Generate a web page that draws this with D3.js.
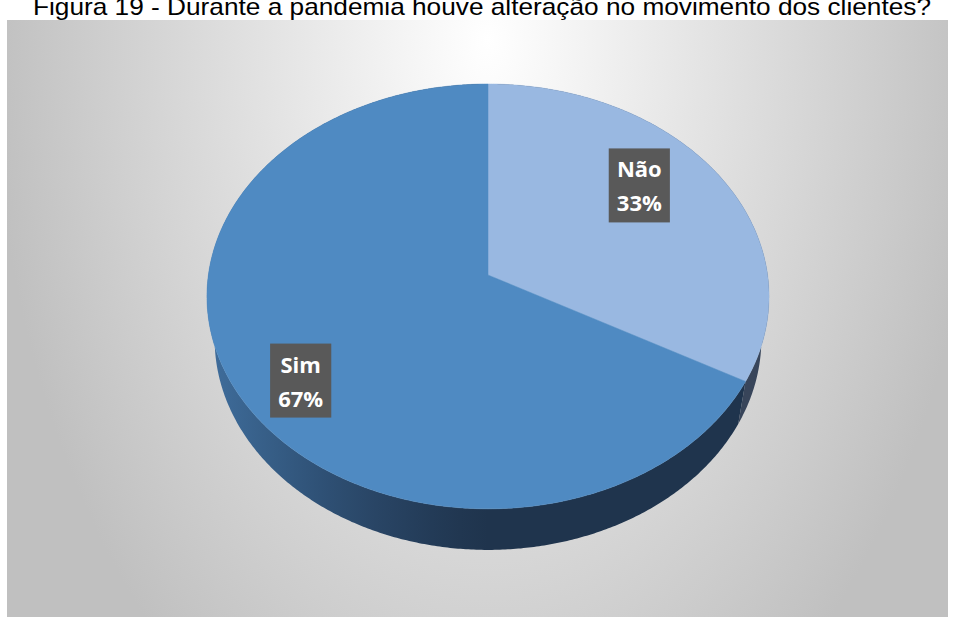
<!DOCTYPE html>
<html>
<head>
<meta charset="utf-8">
<script src="https://cdn.jsdelivr.net/npm/d3@7"></script>
<style>
  html, body { margin: 0; padding: 0; background: #ffffff; }
  svg { display: block; }
</style>
</head>
<body>
<svg id="chart" width="954" height="617"></svg>
<script>
// Survey answers, in drawing order (clockwise from 12 o'clock)
const categories = ["Não", "Sim"];
const values = [33, 67];
const titleText = "Figura 19 - Durante a pandemia houve alteração no movimento dos clientes?";

const W = 954, H = 617;
const svg = d3.select("#chart");
const defs = svg.append("defs");

// ---- background panel with a soft radial gradient ----
const bg = defs.append("radialGradient")
  .attr("id", "bgGrad")
  .attr("gradientUnits", "userSpaceOnUse")
  .attr("cx", 488).attr("cy", 40).attr("r", 800)
  .attr("gradientTransform", "translate(488,40) scale(0.62,1) translate(-488,-40)");
bg.append("stop").attr("offset", 0).attr("stop-color", "#ffffff");
bg.append("stop").attr("offset", 1).attr("stop-color", "#c0c0c0");

const panel = { x: 7, y: 20, w: 941, h: H - 20 };
svg.append("rect")
  .attr("x", panel.x).attr("y", panel.y)
  .attr("width", panel.w).attr("height", panel.h)
  .attr("fill", "url(#bgGrad)");

// ---- title (sits just above the panel) ----
svg.append("text")
  .attr("x", 33).attr("y", 15)
  .attr("textLength", 898)
  .attr("lengthAdjust", "spacingAndGlyphs")
  .style("font-family", "'Liberation Sans', Arial, sans-serif")
  .style("font-size", "24px")
  .attr("fill", "#000000")
  .text(titleText);

// ---- 3D pie geometry (perspective view of a tilted disc) ----
const cx = 488, cy = 275;      // projected centre of the disc
const radius = 0.153;          // disc radius, in units of camera distance
const thick = 0.037;           // disc thickness, same units
const focal = 1827.5;          // projection scale
const tilt = Math.asin(0.752); // elevation of the viewpoint
const sinT = Math.sin(tilt), cosT = Math.cos(tilt);

// angle (0 = back, clockwise), radial fraction, level (0 = top face, 1 = bottom face)
function project(theta, frac, level) {
  const X = radius * frac * Math.sin(theta);
  const Z = -radius * frac * Math.cos(theta);
  const Y = -thick * level;
  const up = Y * cosT - Z * sinT;
  const toward = Y * sinT + Z * cosT;
  const depth = 1 - toward;
  return [cx + focal * X / depth, cy - focal * up / depth];
}

const pie = d3.pie().sort(null).value(d => d)(values);
const total = d3.sum(values);

const topColor = d3.scaleOrdinal().domain(categories).range(["#99b8e1", "#4f8ac2"]);
const sideLight = d3.scaleOrdinal().domain(categories).range(["#6a82a3", "#3f6d9c"]);
const sideDark = d3.scaleOrdinal().domain(categories).range(["#38455a", "#1f344d"]);

const line = d3.line();
const step = Math.PI / 360;
const leftX = project(-Math.PI / 2, 1, 0)[0];
const rightX = project(Math.PI / 2, 1, 0)[0];

// side wall: one band per slice, shaded left-to-right by the direction it faces
const walls = svg.append("g");
pie.forEach((sl, i) => {
  const cat = categories[i];
  const shade = d3.interpolateRgb(sideDark(cat), sideLight(cat));
  const grad = defs.append("linearGradient")
    .attr("id", "side" + i)
    .attr("gradientUnits", "userSpaceOnUse")
    .attr("x1", leftX).attr("y1", 0).attr("x2", rightX).attr("y2", 0);
  d3.range(0, 1.0001, 0.05).forEach(o => {
    const lit = Math.max(0, 1 - 2 * o);            // faces left -> lit
    grad.append("stop").attr("offset", o).attr("stop-color", shade(Math.pow(lit, 1.3)));
  });
  const upper = [], lower = [];
  const n = Math.max(2, Math.ceil((sl.endAngle - sl.startAngle) / step));
  for (let j = 0; j <= n; j++) {
    const a = sl.startAngle + (sl.endAngle - sl.startAngle) * j / n;
    upper.push(project(a, 1, 0));
    lower.push(project(a, 1, 1));
  }
  walls.append("path")
    .attr("d", line(upper.concat(lower.reverse())) + "Z")
    .attr("fill", `url(#side${i})`);
});

// top face slices
const tops = svg.append("g");
pie.forEach((sl, i) => {
  const pts = [project(0, 0, 0)];
  const n = Math.max(2, Math.ceil((sl.endAngle - sl.startAngle) / step));
  for (let j = 0; j <= n; j++) {
    pts.push(project(sl.startAngle + (sl.endAngle - sl.startAngle) * j / n, 1, 0));
  }
  tops.append("path")
    .attr("d", line(pts) + "Z")
    .attr("fill", topColor(categories[i]))
    .attr("stroke", topColor(categories[i]))
    .attr("stroke-width", 0.5);
});

// ---- data labels ----
const labelCx = cx - 18, labelCy = cy + 8, labelRx = 0.7 * 281, labelRy = 0.9 * 213;
const labels = svg.append("g")
  .style("font-family", "'Open Sans', 'Noto Sans', sans-serif")
  .style("font-weight", "bold")
  .style("font-size", "22px");

pie.forEach((sl, i) => {
  const mid = (sl.startAngle + sl.endAngle) / 2;
  const lx = labelCx + labelRx * Math.sin(mid);
  const ly = labelCy - labelRy * Math.cos(mid);
  const g = labels.append("g").attr("transform", `translate(${lx},${ly})`);
  const box = g.append("rect").attr("fill", "#595959");
  const t = g.append("text").attr("text-anchor", "middle").attr("fill", "#ffffff");
  t.append("tspan").attr("x", 0).attr("y", -8).text(categories[i]);
  t.append("tspan").attr("x", 0).attr("y", 26).text(Math.round(values[i] / total * 100) + "%");
  const bb = t.node().getBBox();
  const bw = bb.width + 16, bh = 74;
  box.attr("x", -bw / 2).attr("y", -bh / 2).attr("width", bw).attr("height", bh);
});
</script>
</body>
</html>
